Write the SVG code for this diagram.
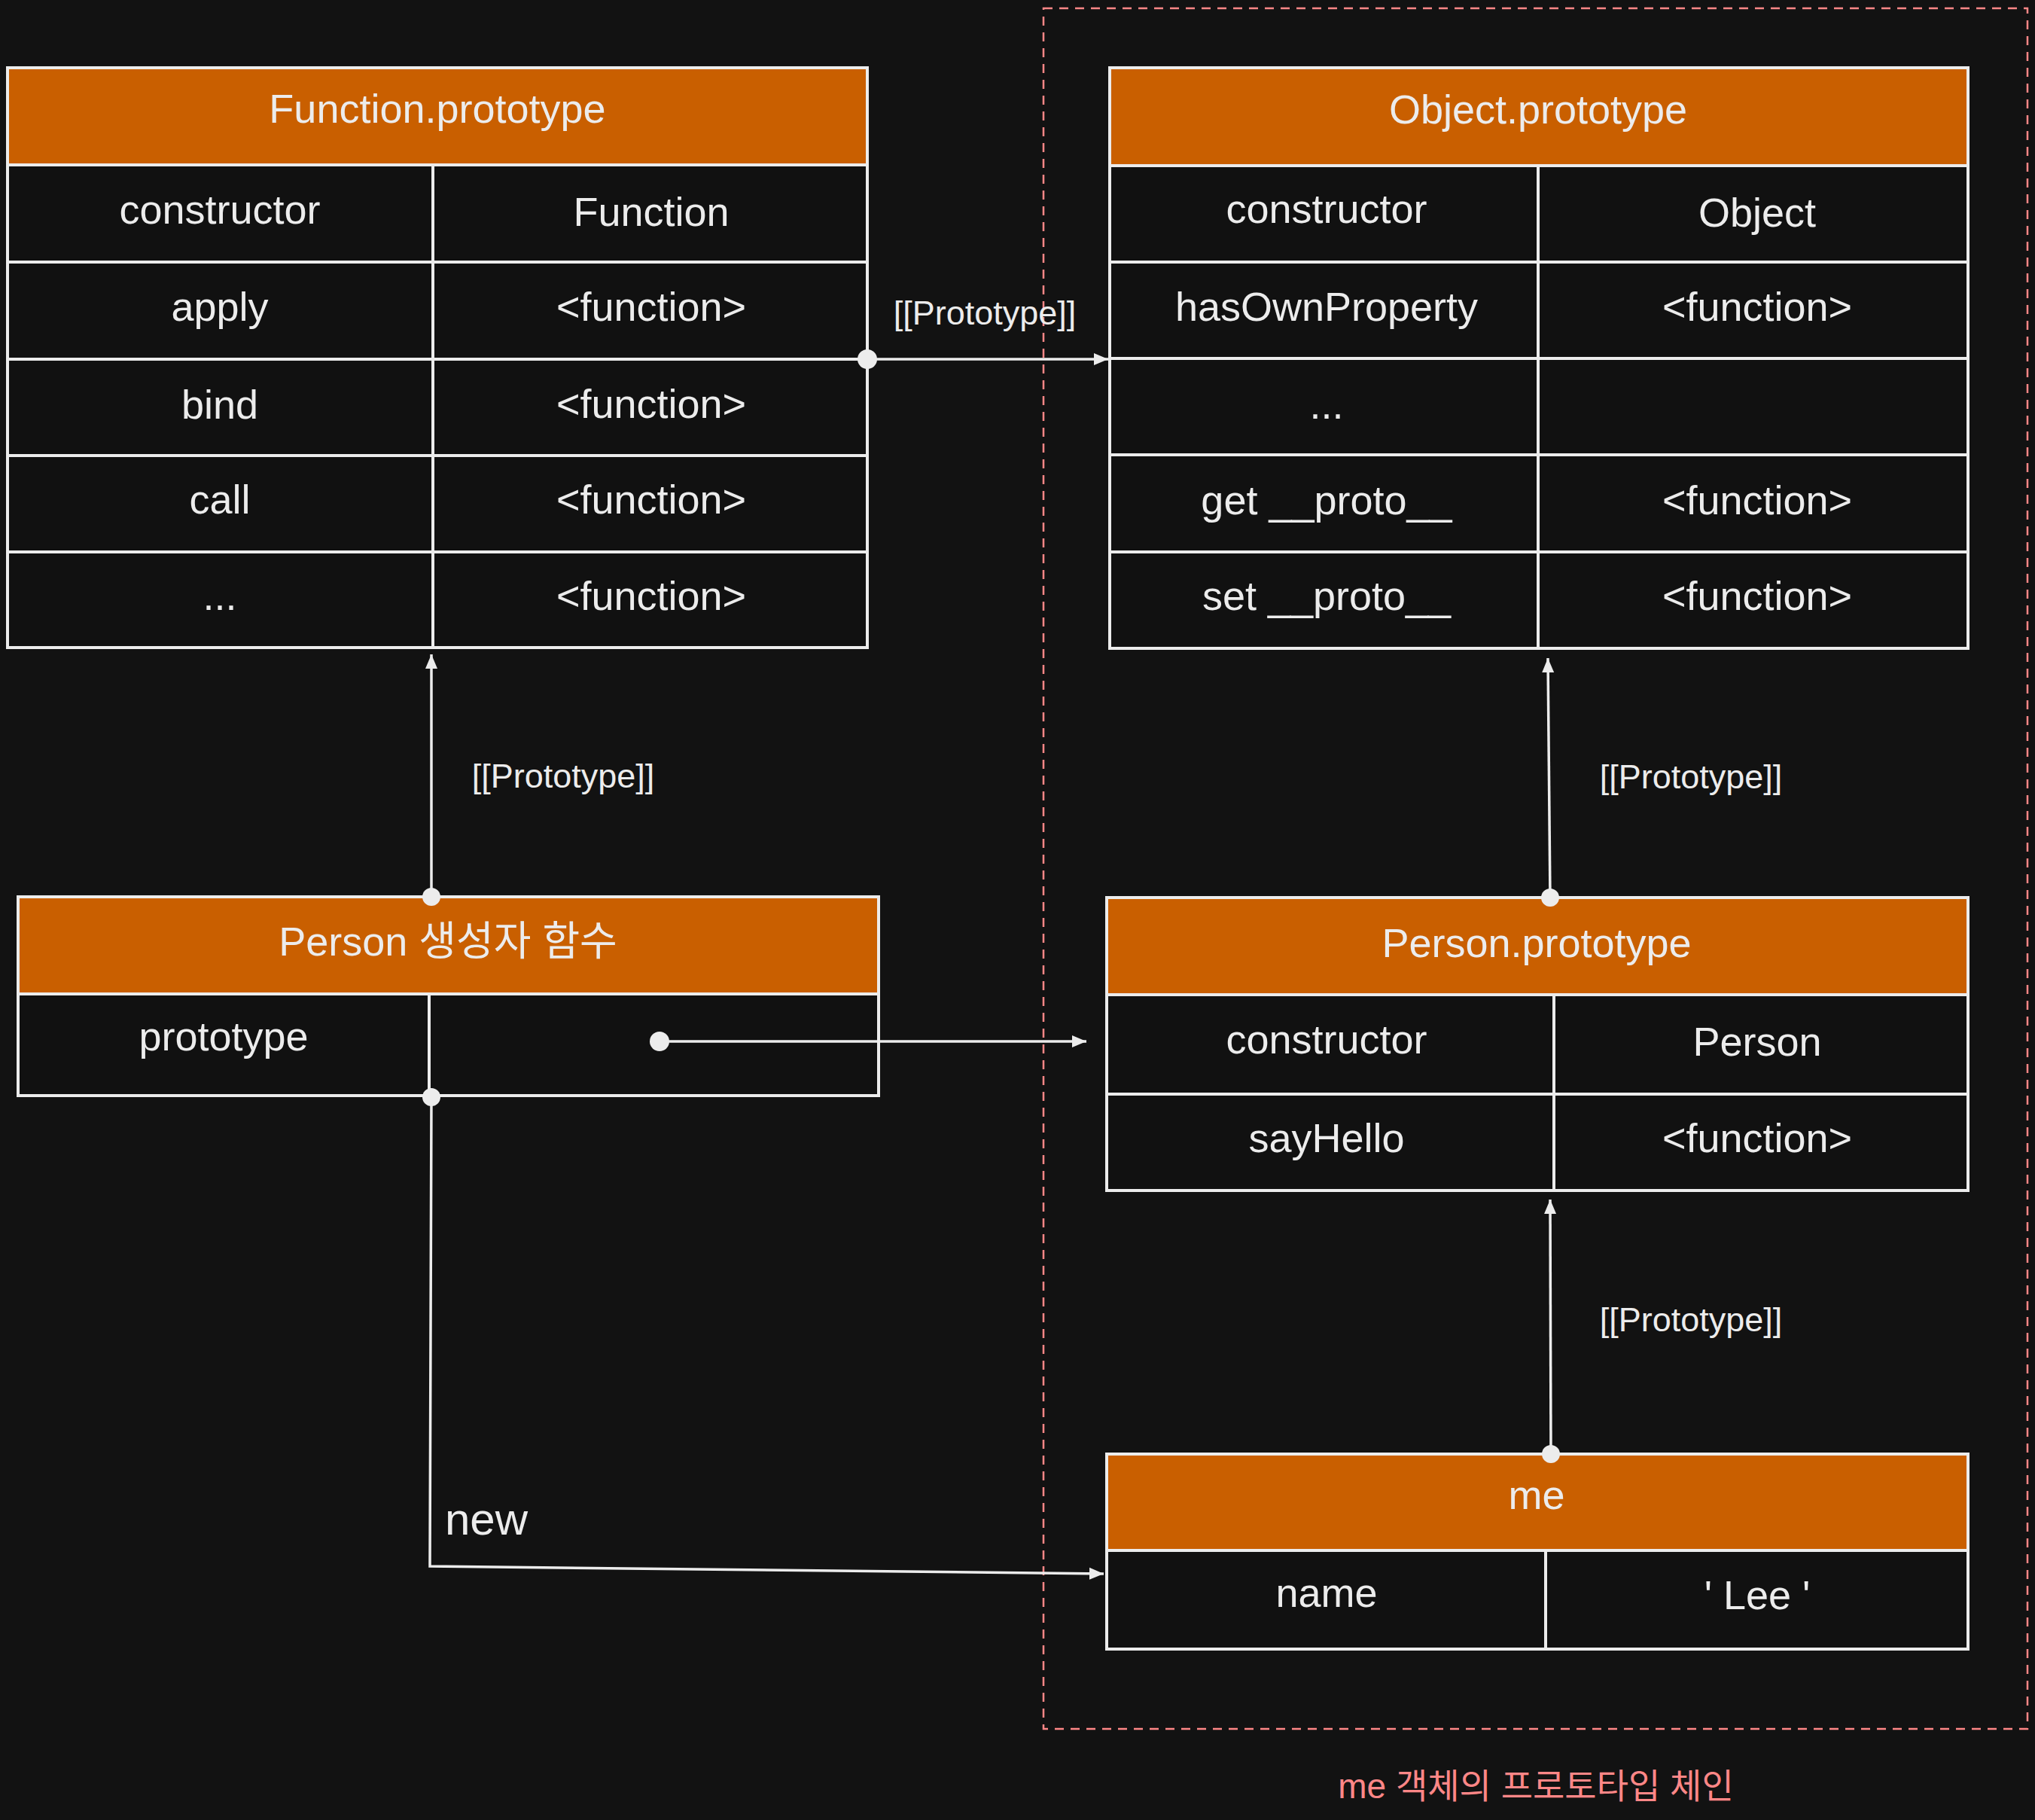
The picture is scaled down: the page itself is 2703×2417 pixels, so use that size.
<svg xmlns="http://www.w3.org/2000/svg" width="2703" height="2417" viewBox="0 0 2703 2417">
<defs>
<style>
.bg{fill:#121212}
.hd{fill:#c95f00;stroke:#ececec;stroke-width:4}
.cell{fill:#111111;stroke:#ececec;stroke-width:4}
.t{font-family:"Liberation Sans","Noto Sans CJK KR",sans-serif;font-size:54px;fill:#ececec;text-anchor:middle}
.lbl{font-family:"Liberation Sans",sans-serif;font-size:45px;fill:#ececec;text-anchor:middle}
.ln{fill:none;stroke:#ececec;stroke-width:3.5}
.dot{fill:#ececec}
.grp{fill:none;stroke:#ff8787;stroke-width:2.5;stroke-dasharray:12 9}
</style>
<marker id="ah" markerUnits="userSpaceOnUse" markerWidth="22" markerHeight="20" refX="19" refY="9" orient="auto">
<path d="M0,1 L19,9 L0,17 Z" fill="#ececec"/>
</marker>
</defs>
<rect class="bg" x="0" y="0" width="2703" height="2417"/>

<g id="group-me-chain">
<rect class="grp" x="1386" y="11" width="1307" height="2285"/>
<text x="2040" y="2388" style="font-family:'Liberation Sans','Noto Sans CJK KR',sans-serif;font-size:46px;fill:#ff8787;text-anchor:middle">me 객체의 프로토타입 체인</text>
</g>

<g id="node-function-prototype">
<rect class="hd" x="10" y="90" width="1142" height="129"/>
<text class="t" x="581" y="163">Function.prototype</text>
<rect class="cell" x="10" y="219" width="565" height="129"/><rect class="cell" x="575" y="219" width="577" height="129"/>
<rect class="cell" x="10" y="348" width="565" height="129"/><rect class="cell" x="575" y="348" width="577" height="129"/>
<rect class="cell" x="10" y="477" width="565" height="128"/><rect class="cell" x="575" y="477" width="577" height="128"/>
<rect class="cell" x="10" y="605" width="565" height="128"/><rect class="cell" x="575" y="605" width="577" height="128"/>
<rect class="cell" x="10" y="733" width="565" height="127"/><rect class="cell" x="575" y="733" width="577" height="127"/>
<text class="t" x="292" y="297">constructor</text><text class="t" x="865" y="300">Function</text>
<text class="t" x="292" y="426">apply</text><text class="t" x="865" y="426">&lt;function&gt;</text>
<text class="t" x="292" y="556">bind</text><text class="t" x="865" y="555">&lt;function&gt;</text>
<text class="t" x="292" y="682">call</text><text class="t" x="865" y="682">&lt;function&gt;</text>
<text class="t" x="292" y="810">...</text><text class="t" x="865" y="810">&lt;function&gt;</text>
</g>

<g id="node-object-prototype">
<rect class="hd" x="1474" y="90" width="1140" height="130"/>
<text class="t" x="2043" y="164">Object.prototype</text>
<rect class="cell" x="1474" y="220" width="569" height="128"/><rect class="cell" x="2043" y="220" width="571" height="128"/>
<rect class="cell" x="1474" y="348" width="569" height="128"/><rect class="cell" x="2043" y="348" width="571" height="128"/>
<rect class="cell" x="1474" y="476" width="569" height="128"/><rect class="cell" x="2043" y="476" width="571" height="128"/>
<rect class="cell" x="1474" y="604" width="569" height="129"/><rect class="cell" x="2043" y="604" width="571" height="129"/>
<rect class="cell" x="1474" y="733" width="569" height="128"/><rect class="cell" x="2043" y="733" width="571" height="128"/>
<text class="t" x="1762" y="296">constructor</text><text class="t" x="2334" y="301">Object</text>
<text class="t" x="1762" y="426">hasOwnProperty</text><text class="t" x="2334" y="426">&lt;function&gt;</text>
<text class="t" x="1762" y="556">...</text>
<text class="t" x="1762" y="683">get __proto__</text><text class="t" x="2334" y="683">&lt;function&gt;</text>
<text class="t" x="1762" y="810">set __proto__</text><text class="t" x="2334" y="810">&lt;function&gt;</text>
</g>

<g id="node-person-constructor">
<rect class="hd" x="24" y="1191" width="1143" height="129"/>
<text class="t" x="595" y="1269">Person 생성자 함수</text>
<rect class="cell" x="24" y="1320" width="546" height="135"/><rect class="cell" x="570" y="1320" width="597" height="135"/>
<text class="t" x="297" y="1395">prototype</text>
</g>

<g id="node-person-prototype">
<rect class="hd" x="1470" y="1192" width="1144" height="129"/>
<text class="t" x="2041" y="1271">Person.prototype</text>
<rect class="cell" x="1470" y="1321" width="594" height="132"/><rect class="cell" x="2064" y="1321" width="550" height="132"/>
<rect class="cell" x="1470" y="1453" width="594" height="128"/><rect class="cell" x="2064" y="1453" width="550" height="128"/>
<text class="t" x="1762" y="1399">constructor</text><text class="t" x="2334" y="1402">Person</text>
<text class="t" x="1762" y="1530">sayHello</text><text class="t" x="2334" y="1530">&lt;function&gt;</text>
</g>

<g id="node-me">
<rect class="hd" x="1470" y="1931" width="1144" height="128"/>
<text class="t" x="2041" y="2004">me</text>
<rect class="cell" x="1470" y="2059" width="583" height="131"/><rect class="cell" x="2053" y="2059" width="561" height="131"/>
<text class="t" x="1762" y="2134">name</text><text class="t" x="2334" y="2137">' Lee '</text>
</g>

<g id="connectors">
<line class="ln" x1="1152" y1="477" x2="1472" y2="477" marker-end="url(#ah)"/>
<circle class="dot" cx="1152" cy="477" r="13"/>
<text class="lbl" x="1308" y="431">[[Prototype]]</text>

<line class="ln" x1="573" y1="1191" x2="573" y2="869" marker-end="url(#ah)"/>
<circle class="dot" cx="573" cy="1191" r="12"/>
<text class="lbl" x="748" y="1046">[[Prototype]]</text>

<line class="ln" x1="2059" y1="1192" x2="2056" y2="874" marker-end="url(#ah)"/>
<circle class="dot" cx="2059" cy="1192" r="12"/>
<text class="lbl" x="2246" y="1047">[[Prototype]]</text>

<line class="ln" x1="2060" y1="1931" x2="2059" y2="1593" marker-end="url(#ah)"/>
<circle class="dot" cx="2060" cy="1931" r="12"/>
<text class="lbl" x="2246" y="1768">[[Prototype]]</text>

<line class="ln" x1="876" y1="1383" x2="1443" y2="1383" marker-end="url(#ah)"/>
<circle class="dot" cx="876" cy="1383" r="13"/>

<polyline class="ln" points="573,1455 571,2080 1466,2090" marker-end="url(#ah)"/>
<circle class="dot" cx="573" cy="1457" r="12"/>
<text x="591" y="2038" style="font-family:'Liberation Sans',sans-serif;font-size:60px;fill:#ececec">new</text>
</g>
</svg>
